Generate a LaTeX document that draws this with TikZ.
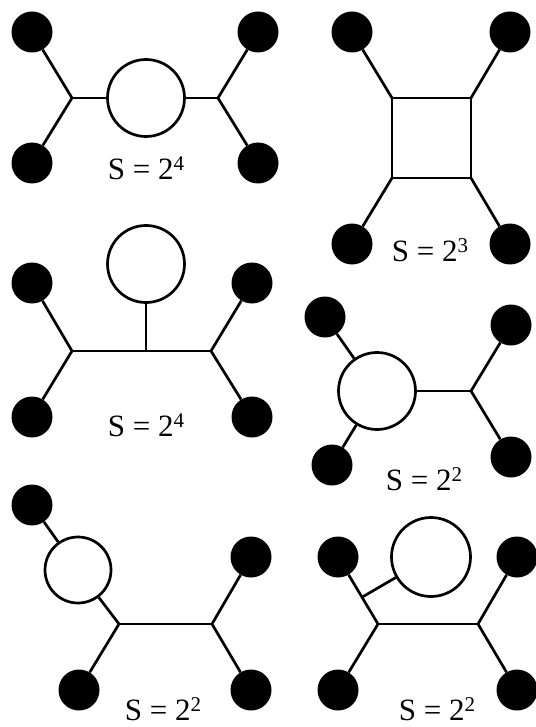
\documentclass[tikz,border=0pt]{standalone}
\usepackage{fontspec}
\setmainfont{Liberation Serif}
\usetikzlibrary{calc}
\newcommand\supdig[1]{\raisebox{9pt}{\fontsize{21}{21}\selectfont #1}}
\begin{document}
\begin{tikzpicture}[x=1pt,y=-1pt,
  dot/.style={circle,fill=black,minimum size=41pt,inner sep=0pt},
  ring/.style={circle,draw,line width=2.7pt,minimum size=77pt,inner sep=0pt},
  edge/.style={line width=2.7pt},
  lbl/.style={anchor=base,inner sep=0pt,font=\fontsize{31}{36}\selectfont}]
\useasboundingbox (0,0) rectangle (535,727);
% ---------- panel 1 (top left) ----------
\node[dot] (a1) at (32,32) {};
\node[dot] (a2) at (32,163) {};
\node[dot] (a3) at (258,32) {};
\node[dot] (a4) at (258,163) {};
\coordinate (aj1) at (72,98);
\coordinate (aj2) at (218,98);
\node[ring] (ac) at (146,98) {};
\draw[edge] (a1) -- (aj1) -- (a2);
\draw[edge] (a3) -- (aj2) -- (a4);
\draw[edge] (aj1) -- (ac) (ac) -- (aj2);
\node[lbl] (al) at (146,180) {S = 2\supdig{4}};
% ---------- panel 2 (top right) ----------
\node[dot] (b1) at (352,32) {};
\node[dot] (b2) at (510,32) {};
\node[dot] (b3) at (352,244) {};
\node[dot] (b4) at (510,244) {};
\coordinate (bs1) at (392,98);
\coordinate (bs2) at (471,98);
\coordinate (bs3) at (471,178);
\coordinate (bs4) at (392,178);
\draw[edge,line join=miter] (bs1) -- (bs2) -- (bs3) -- (bs4) -- cycle;
\draw[edge] (b1) -- (bs1) (b2) -- (bs2) (b4) -- (bs3) (b3) -- (bs4);
\node[lbl] (bl) at (430,261) {S = 2\supdig{3}};
% ---------- panel 3 (middle left) ----------
\node[dot] (c1) at (32,283) {};
\node[dot] (c2) at (32,417) {};
\node[dot] (c3) at (252,283) {};
\node[dot] (c4) at (252,417) {};
\coordinate (cj1) at (72,351);
\coordinate (cj2) at (211,351);
\coordinate (cm) at (146,351);
\node[ring] (cc) at (146,264) {};
\draw[edge] (c1) -- (cj1) -- (c2);
\draw[edge] (c3) -- (cj2) -- (c4);
\draw[edge] (cj1) -- (cj2);
\draw[edge] (cm) -- (cc);
\node[lbl] (cl) at (146,436) {S = 2\supdig{4}};
% ---------- panel 4 (middle right) ----------
\node[dot] (d1) at (325,317) {};
\node[dot] (d2) at (332,465) {};
\node[dot] (d3) at (511,325) {};
\node[dot] (d4) at (511,457) {};
\node[ring] (dc) at (377,391) {};
\coordinate (dj) at (471,391);
\draw[edge] (d1) -- (dc) (dc) -- (d2);
\draw[edge] (dc) -- (dj);
\draw[edge] (d3) -- (dj) -- (d4);
\node[lbl] (dl) at (424,490) {S = 2\supdig{2}};
% ---------- panel 5 (bottom left) ----------
\node[dot] (e1) at (32,505) {};
\node[dot] (e2) at (79,690) {};
\node[dot] (e3) at (251,557) {};
\node[dot] (e4) at (251,690) {};
\node[ring,minimum size=66pt] (ec) at (78,570) {};
\coordinate (ej1) at (119,624);
\coordinate (ej2) at (212,624);
\draw[edge] (e1) -- (ec) (ec) -- (ej1);
\draw[edge] (ej1) -- (e2);
\draw[edge] (ej1) -- (ej2);
\draw[edge] (e3) -- (ej2) -- (e4);
\node[lbl] (el) at (163,720) {S = 2\supdig{2}};
% ---------- panel 6 (bottom right) ----------
\node[dot] (f1) at (338,557) {};
\node[dot] (f2) at (338,690) {};
\node[dot] (f3) at (517,557) {};
\node[dot] (f4) at (517,690) {};
\node[ring,minimum size=79pt] (fc) at (431,557) {};
\coordinate (fj1) at (378,624);
\coordinate (fj2) at (478,624);
\coordinate (fb) at ($(fj1)!0.4!(f1)$);
\draw[edge] (f1) -- (fj1) -- (f2);
\draw[edge] (f3) -- (fj2) -- (f4);
\draw[edge] (fj1) -- (fj2);
\draw[edge] (fb) -- (fc);
\node[lbl] (fl) at (437,720) {S = 2\supdig{2}};
\end{tikzpicture}
\end{document}
